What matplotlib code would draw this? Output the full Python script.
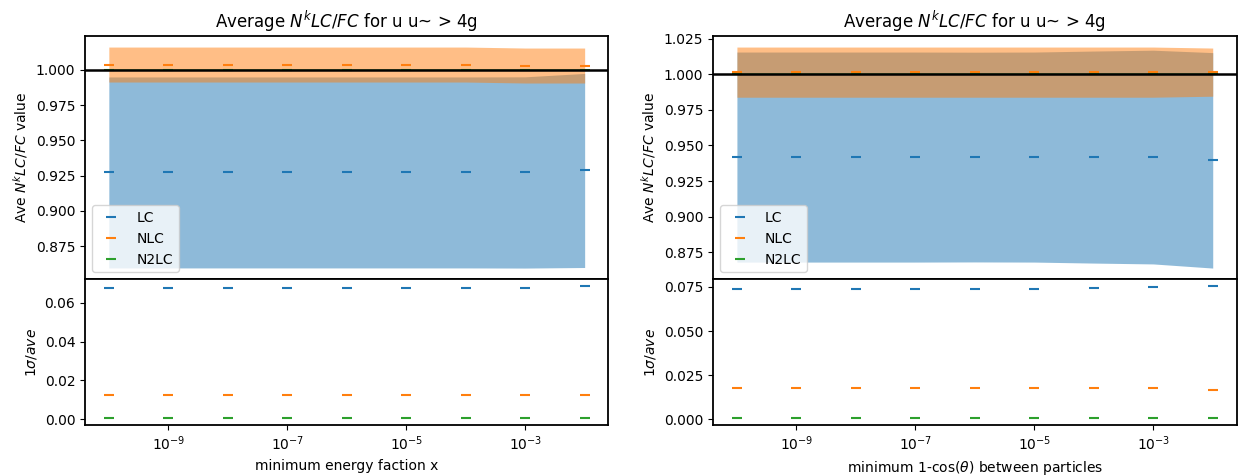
import matplotlib
matplotlib.use("Agg")
import matplotlib.pyplot as plt
from matplotlib.ticker import NullLocator, MultipleLocator
import numpy as np

# cut values scanned (log spaced)
cuts = [1e-10, 1e-9, 1e-8, 1e-7, 1e-6, 1e-5, 1e-4, 1e-3, 1e-2]
labs = ["LC", "NLC", "N2LC"]

# energy fraction scan
eAveLC = [0.9273, 0.9273, 0.9273, 0.9273, 0.9273, 0.9273, 0.9273, 0.9273, 0.9287]
eAveNLC = [1.0038, 1.0038, 1.0038, 1.0038, 1.0038, 1.0038, 1.0038, 1.0031, 1.0031]
eAveN2LC = [1.0, 1.0, 1.0, 1.0, 1.0, 1.0, 1.0, 1.0, 1.0]
eRelLC = [0.0677, 0.0677, 0.0677, 0.0677, 0.0677, 0.0677, 0.0677, 0.0678, 0.0688]
eRelNLC = [0.0124, 0.0124, 0.0124, 0.0124, 0.0124, 0.0124, 0.0124, 0.0124, 0.0124]
eRelN2LC = [0.0005, 0.0005, 0.0005, 0.0005, 0.0005, 0.0005, 0.0005, 0.0005, 0.0005]

# angular scan
aAveLC = [0.9418, 0.9418, 0.9418, 0.9418, 0.9418, 0.9418, 0.9418, 0.9418, 0.9395]
aAveNLC = [1.0014, 1.0014, 1.0014, 1.0014, 1.0014, 1.0014, 1.0014, 1.0014, 1.0014]
aAveN2LC = [1.0, 1.0, 1.0, 1.0, 1.0, 1.0, 1.0, 1.0, 1.0]
aRelLC = [0.0737, 0.0737, 0.0737, 0.0737, 0.0736, 0.0737, 0.0744, 0.0750, 0.0756]
aRelNLC = [0.0176, 0.0176, 0.0176, 0.0176, 0.0176, 0.0176, 0.0176, 0.0176, 0.0169]
aRelN2LC = [0.0006, 0.0006, 0.0006, 0.0006, 0.0006, 0.0006, 0.0006, 0.0006, 0.0006]

xlabs = ["minimum energy faction x", "minimum 1-cos($\\theta$) between particles"]
relSteps = [0.02, 0.025]

plt.rcParams['axes.linewidth'] = 1.3

fig = plt.figure(figsize=(12.38, 4.75), dpi=100)
gs = fig.add_gridspec(2, 2, height_ratios=[5, 3], hspace=0, wspace=0.2,
                      left=0.0687, right=0.9988, top=0.9242, bottom=0.1053)

panels = [
    ([eAveLC, eAveNLC, eAveN2LC], [eRelLC, eRelNLC, eRelN2LC]),
    ([aAveLC, aAveNLC, aAveN2LC], [aRelLC, aRelNLC, aRelN2LC]),
]

for col, (aves, rels) in enumerate(panels):
    axTop = fig.add_subplot(gs[0, col])
    axBot = fig.add_subplot(gs[1, col], sharex=axTop)
    x = np.array(cuts)

    for i in range(len(labs)):
        ave = np.array(aves[i])
        rel = np.array(rels[i])
        axTop.fill_between(x, ave - rel, ave + rel, color="C%d" % i, alpha=0.5, lw=0)
    for i in range(len(labs)):
        axTop.plot(x, aves[i], ls="none", marker="_", ms=6.5, mew=1.5,
                   color="C%d" % i, label=labs[i])
        axBot.plot(x, rels[i], ls="none", marker="_", ms=6.5, mew=1.5,
                   color="C%d" % i)
    axTop.axhline(1.0, color="k", lw=1.8, zorder=5)

    axTop.set_xscale("log")
    axTop.set_title("Average $N^kLC/FC$ for u u~ > 4g")
    axTop.set_ylabel("Ave $N^kLC/FC$ value")
    axTop.legend(loc="lower left")
    axTop.tick_params(axis="x", which="both", bottom=False, labelbottom=False)

    axBot.set_xticks([1e-9, 1e-7, 1e-5, 1e-3])
    axBot.xaxis.set_minor_locator(NullLocator())
    axBot.yaxis.set_major_locator(MultipleLocator(relSteps[col]))
    axBot.set_ylabel("$1\\sigma/ave$")
    axBot.set_xlabel(xlabs[col])

plt.savefig("out.png", dpi=100)
